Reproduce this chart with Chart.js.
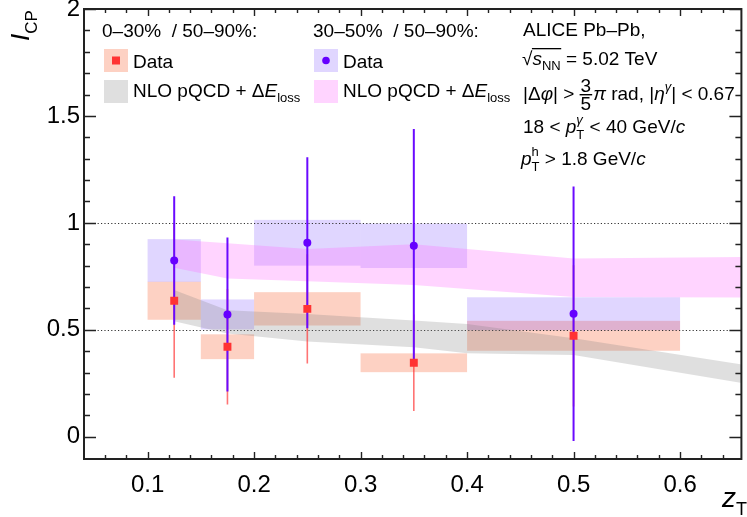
<!DOCTYPE html>
<html><head><meta charset="utf-8">
<script src="https://cdn.jsdelivr.net/npm/chart.js@4.4.1/dist/chart.umd.min.js"></script>
<style>html,body{margin:0;padding:0;background:#fff;}#wrap{width:747px;height:517px;position:relative;}</style>
</head><body><div id="wrap"><canvas id="c" width="747" height="517"></canvas></div>
<script>
// ---------------- data ----------------
const zT = [0.125, 0.175, 0.25, 0.35, 0.5];
const binLo = [0.10, 0.15, 0.20, 0.30, 0.40];
const binHi = [0.15, 0.20, 0.30, 0.40, 0.60];
// 0-30% / 50-90%
const centralVal  = [0.636, 0.421, 0.598, 0.346, 0.472];
const centralStat = [0.360, 0.270, 0.255, 0.226, 0.330];
const centralSyst = [0.089, 0.058, 0.078, 0.044, 0.070];
// 30-50% / 50-90%
const semiVal  = [0.824, 0.572, 0.907, 0.893, 0.575];
const semiStat = [0.300, 0.360, 0.400, 0.546, 0.595];
const semiSyst = [0.100, 0.070, 0.107, 0.104, 0.077];
// NLO pQCD + dE_loss bands
const thCentralX  = [0.125, 0.175, 0.25, 0.35, 0.40, 0.50, 0.66];
const thCentralHi = [0.686, 0.591, 0.574, 0.544, 0.527, 0.461, 0.336];
const thCentralLo = [0.540, 0.483, 0.445, 0.418, 0.390, 0.382, 0.250];
const thSemiX  = [0.125, 0.175, 0.25, 0.35, 0.50, 0.66];
const thSemiHi = [0.922, 0.905, 0.878, 0.900, 0.834, 0.840];
const thSemiLo = [0.790, 0.740, 0.727, 0.709, 0.654, 0.651];
// axes
const xMajor = [0.1, 0.2, 0.3, 0.4, 0.5, 0.6];
const xTickLabels = ['0.1', '0.2', '0.3', '0.4', '0.5', '0.6'];
const yMajor = [0, 0.5, 1, 1.5, 2];
const yTickLabels = ['0', '0.5', '1', '1.5', '2'];
const refLines = [0.5, 1];
const X_MIN = 0.0403, X_MAX = 0.6576, Y_MIN = -0.104, Y_MAX = 2.0;

// ---------------- styles ----------------
const FONT = '"Liberation Sans", Arial, Helvetica, sans-serif';
const C_RED = '#ff3333', C_RED_ERR = 'rgba(255,50,50,0.68)', C_RED_BOX = 'rgba(250,128,90,0.36)';
const C_PUR = '#6600ff', C_PUR_ERR = '#6a0aff', C_PUR_BOX = 'rgba(102,51,255,0.2)';
const C_GREY = 'rgba(128,128,128,0.25)', C_PINK = 'rgba(255,102,255,0.28)';

function pts(xs, ys) { return xs.map((x, i) => ({x, y: ys[i]})); }
function errSegs(xs, v, e) {
  const d = [];
  xs.forEach((x, i) => { d.push({x, y: v[i] - e[i]}, {x, y: v[i] + e[i]}, {x, y: null}); });
  return d;
}

function rich(ctx, x, y, parts) {
  let cx = x;
  for (const p of parts) {
    if (p.frac) {
      ctx.font = `${p.s}px ${FONT}`;
      const w1 = ctx.measureText(p.frac[0]).width, w2 = ctx.measureText(p.frac[1]).width;
      const w = Math.max(w1, w2) + 2;
      ctx.fillText(p.frac[0], cx + (w - w1) / 2, y - 8);
      ctx.fillText(p.frac[1], cx + (w - w2) / 2, y + 10);
      ctx.fillRect(cx, y - 6, w, 1.4);
      cx += w + 1;
      continue;
    }
    ctx.font = `${p.i ? 'italic ' : ''}${p.s}px ${FONT}`;
    ctx.fillText(p.t, cx, y + (p.dy || 0));
    const w = ctx.measureText(p.t).width;
    if (!p.noAdv) cx += w;
    cx += (p.gap || 0);
  }
  return cx;
}

const deco = {
  id: 'deco',
  beforeDatasetsDraw(chart) {
    const {ctx, chartArea: a, scales: {x, y}} = chart;
    ctx.save();
    ctx.beginPath(); ctx.rect(a.left, a.top, a.right - a.left, a.bottom - a.top); ctx.clip();
    const box = (lo, hi, v, s, col) => {
      ctx.fillStyle = col;
      lo.forEach((l, i) => {
        const x0 = x.getPixelForValue(l), x1 = x.getPixelForValue(hi[i]);
        const y0 = y.getPixelForValue(v[i] + s[i]), y1 = y.getPixelForValue(v[i] - s[i]);
        ctx.fillRect(x0, y0, x1 - x0, y1 - y0);
      });
    };
    box(binLo, binHi, centralVal, centralSyst, C_RED_BOX);
    box(binLo, binHi, semiVal, semiSyst, C_PUR_BOX);
    ctx.strokeStyle = '#333'; ctx.lineWidth = 1; ctx.setLineDash([1.2, 2.2]);
    refLines.forEach(v => {
      const py = Math.round(y.getPixelForValue(v)) + 0.5;
      ctx.beginPath(); ctx.moveTo(a.left, py); ctx.lineTo(a.right, py); ctx.stroke();
    });
    ctx.restore();
  },
  afterDraw(chart) {
    const {ctx, chartArea: a, scales: {x, y}} = chart;
    ctx.save();
    // frame
    ctx.strokeStyle = '#222'; ctx.lineWidth = 2;
    ctx.strokeRect(a.left, a.top, a.right - a.left, a.bottom - a.top);
    // ticks
    ctx.lineWidth = 1.4;
    ctx.beginPath();
    for (let v = 0; v <= Y_MAX + 1e-9; v += 0.1) {
      const py = Math.round(y.getPixelForValue(v)) + 0.5;
      const major = yMajor.some(m => Math.abs(m - v) < 1e-6);
      const L = major ? 12 : 6;
      ctx.moveTo(a.left, py); ctx.lineTo(a.left + L, py);
      ctx.moveTo(a.right, py); ctx.lineTo(a.right - L, py);
    }
    for (let v = 0.06; v <= X_MAX; v += 0.02) {
      const px = Math.round(x.getPixelForValue(v)) + 0.5;
      const major = xMajor.some(m => Math.abs(m - v) < 1e-6);
      const L = major ? 7 : 4;
      ctx.moveTo(px, a.bottom); ctx.lineTo(px, a.bottom - L);
      ctx.moveTo(px, a.top); ctx.lineTo(px, a.top + L);
    }
    ctx.stroke();

    ctx.fillStyle = '#000'; ctx.textBaseline = 'alphabetic'; ctx.textAlign = 'left';
    // axis titles
    rich(ctx, 722, 507, [{t: 'z', i: true, s: 28}, {t: 'T', s: 18, dy: 8}]);
    ctx.save();
    ctx.translate(29, 41); ctx.rotate(-Math.PI / 2);
    rich(ctx, 0, 0, [{t: 'I', i: true, s: 26}, {t: 'CP', s: 17, dy: 8}]);
    ctx.restore();

    // legend
    const F = 19, S = 13;
    ctx.font = `${F}px ${FONT}`;
    ctx.fillText('0–30%  / 50–90%:', 102, 37);
    ctx.fillText('30–50%  / 50–90%:', 313, 37);
    ctx.fillStyle = C_RED_BOX; ctx.fillRect(104, 49, 24, 23);
    ctx.fillStyle = C_GREY; ctx.fillRect(104, 80, 24, 23);
    ctx.fillStyle = C_PUR_BOX; ctx.fillRect(314, 49, 24, 23);
    ctx.fillStyle = C_PINK; ctx.fillRect(314, 80, 24, 23);
    ctx.fillStyle = C_RED; ctx.fillRect(112, 56.5, 8, 8);
    ctx.fillStyle = C_PUR; ctx.beginPath(); ctx.arc(326, 60.5, 3.8, 0, 2 * Math.PI); ctx.fill();
    ctx.fillStyle = '#000';
    ctx.font = `${F}px ${FONT}`;
    ctx.fillText('Data', 133, 68); ctx.fillText('Data', 343, 68);
    const nlo = [{t: 'NLO pQCD + Δ', s: F}, {t: 'E', i: true, s: F}, {t: 'loss', s: S, dy: 5}];
    rich(ctx, 133, 97, nlo); rich(ctx, 343, 97, nlo);

    // right block
    ctx.font = `${F}px ${FONT}`;
    ctx.fillText('ALICE Pb–Pb,', 523, 36);
    let cx = rich(ctx, 522, 65, [{t: '√', s: F}]);
    const sx0 = cx;
    cx = rich(ctx, cx, 65, [{t: 's', i: true, s: F}, {t: 'NN', s: S, dy: 5}]);
    ctx.fillRect(sx0 - 0.5, 48, cx - sx0 + 1, 1.3);
    rich(ctx, cx, 65, [{t: ' = 5.02 TeV', s: F}]);
    rich(ctx, 523, 100, [
      {t: '|Δ', s: F}, {t: 'φ', i: true, s: F}, {t: '| > ', s: F},
      {frac: ['3', '5'], s: F}, {t: 'π', i: true, s: F}, {t: ' rad, |', s: F},
      {t: 'η', i: true, s: F}, {t: 'γ', i: true, s: S, dy: -9}, {t: '| < 0.67', s: F}
    ]);
    rich(ctx, 523, 133, [
      {t: '18 < ', s: F}, {t: 'p', i: true, s: F}, {t: 'γ', i: true, s: S, dy: -9, noAdv: true},
      {t: 'T', s: S, dy: 6}, {t: ' < 40 GeV/', s: F}, {t: 'c', i: true, s: F}
    ]);
    rich(ctx, 521, 165, [
      {t: 'p', i: true, s: F}, {t: 'h', s: S, dy: -9, noAdv: true},
      {t: 'T', s: S, dy: 6}, {t: ' > 1.8 GeV/', s: F}, {t: 'c', i: true, s: F}
    ]);
    ctx.restore();
  }
};

new Chart(document.getElementById('c'), {
  type: 'scatter',
  data: {
    datasets: [
      {type: 'line', label: 'NLO 0-30 hi', data: pts(thCentralX, thCentralHi), fill: '+1', backgroundColor: C_GREY, borderWidth: 0, pointRadius: 0, tension: 0, order: 20},
      {type: 'line', label: 'NLO 0-30 lo', data: pts(thCentralX, thCentralLo), fill: false, borderWidth: 0, pointRadius: 0, tension: 0, order: 21},
      {type: 'line', label: 'NLO 30-50 hi', data: pts(thSemiX, thSemiHi), fill: '+1', backgroundColor: C_PINK, borderWidth: 0, pointRadius: 0, tension: 0, order: 18},
      {type: 'line', label: 'NLO 30-50 lo', data: pts(thSemiX, thSemiLo), fill: false, borderWidth: 0, pointRadius: 0, tension: 0, order: 19},
      {label: 'stat 0-30', data: errSegs(zT, centralVal, centralStat), showLine: true, spanGaps: false, borderColor: C_RED_ERR, borderWidth: 1.6, pointRadius: 0, order: 8},
      {label: 'stat 30-50', data: errSegs(zT, semiVal, semiStat), showLine: true, spanGaps: false, borderColor: C_PUR_ERR, borderWidth: 2, pointRadius: 0, order: 6},
      {label: 'Data 0-30', data: pts(zT, centralVal), pointStyle: 'rect', pointRadius: 5.6, backgroundColor: C_RED, borderWidth: 0, order: 5},
      {label: 'Data 30-50', data: pts(zT, semiVal), pointStyle: 'circle', pointRadius: 4, backgroundColor: C_PUR, borderWidth: 0, order: 3}
    ]
  },
  options: {
    responsive: false, animation: false,
    layout: {padding: {left: 0, top: 9, right: 1, bottom: 0}},
    plugins: {legend: {display: false}, tooltip: {enabled: false}},
    scales: {
      x: {
        type: 'linear', min: X_MIN, max: X_MAX,
        grid: {display: false, drawTicks: false}, border: {display: false},
        afterBuildTicks: s => { s.ticks = xMajor.map(v => ({value: v})); },
        afterFit: s => { s.height = 58; s.paddingLeft = 0; s.paddingRight = 0; },
        ticks: {font: {family: FONT, size: 24}, color: '#000', padding: 12, maxRotation: 0, autoSkip: false,
          callback: (v, i) => xTickLabels[i]}
      },
      y: {
        type: 'linear', min: Y_MIN, max: Y_MAX,
        grid: {display: false, drawTicks: false}, border: {display: false},
        afterBuildTicks: s => { s.ticks = yMajor.map(v => ({value: v})); },
        afterFit: s => { s.width = 84; s.paddingTop = 0; s.paddingBottom = 0; },
        ticks: {font: {family: FONT, size: 24}, color: '#000', padding: 4, autoSkip: false,
          callback: (v, i) => yTickLabels[i]}
      }
    }
  },
  plugins: [deco]
});
</script></body></html>
